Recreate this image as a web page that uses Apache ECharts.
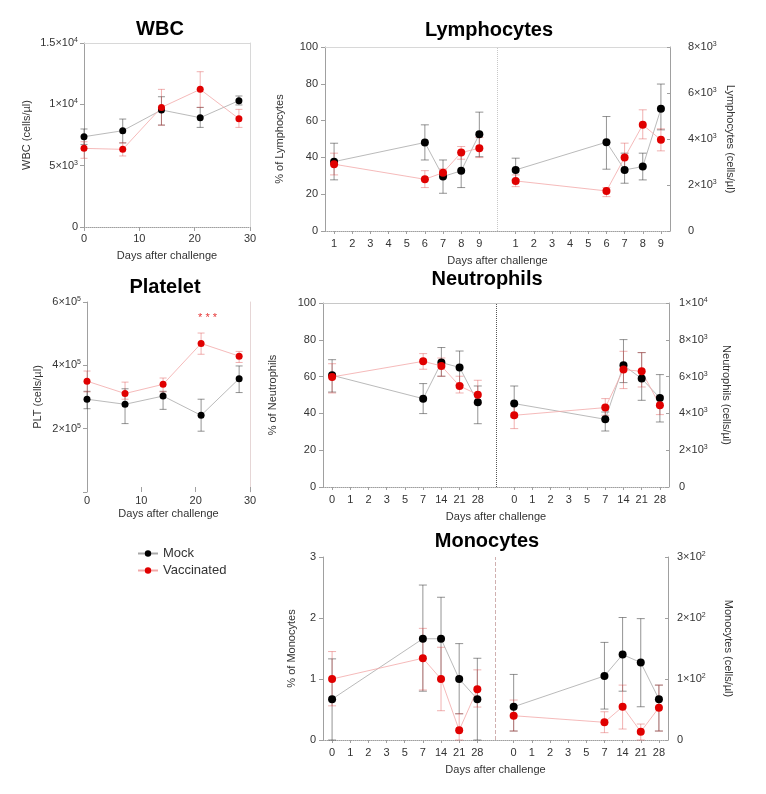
<!DOCTYPE html>
<html><head><meta charset="utf-8">
<script src="https://cdn.jsdelivr.net/npm/echarts@6/dist/echarts.min.js"></script>
<style>html,body{margin:0;padding:0;background:#fff}#c{width:766px;height:794px}</style>
</head><body><div id="c"></div>
<script>
// ---------- DATA ----------
const seriesNames = ['Mock', 'Vaccinated'];
const days = [0, 7, 14, 21, 28];

// WBC (cells/µl)
const wbcMock = [7360, 7850, 9540, 8910, 10300];
const wbcMockLo = [6730, 6850, 8310, 8120, 9950];
const wbcMockHi = [7990, 8800, 10620, 9750, 10680];
const wbcVacc = [6410, 6330, 9750, 11220, 8830];
const wbcVaccLo = [5600, 5790, 8300, 9750, 8120];
const wbcVaccHi = [6950, 6870, 11220, 12660, 9590];

// Platelet (cells/µl)
const pltMock = [293000, 277000, 303000, 242000, 358000];
const pltMockLo = [263000, 216000, 261000, 192000, 314000];
const pltMockHi = [318000, 326000, 318000, 293000, 398000];
const pltVacc = [350000, 311000, 340000, 469000, 429000];
const pltVaccLo = [316000, 293000, 316000, 435000, 409000];
const pltVaccHi = [382000, 347000, 360000, 502000, 444000];
const pltSigDay = 21;
const pltSigLevel = 549000;
const pltSigText = '* * *';

// category labels of the split panels
const lymphDayLabels = ['1','2','3','4','5','6','7','8','9'];
const lymphSampleDays = ['1','6','7','8','9'];
const otherDayLabels = ['0','1','2','3','5','7','14','21','28'];
const otherSampleDays = ['0','7','14','21','28'];

// Lymphocytes
const lymPctMock = [37.7, 48.1, 29.6, 32.7, 52.6];
const lymPctMockLo = [27.8, 38.6, 20.5, 23.6, 40.4];
const lymPctMockHi = [47.7, 57.7, 38.6, 42.6, 64.6];
const lymPctVacc = [36.3, 28.1, 31.7, 42.6, 45.0];
const lymPctVaccLo = [30.5, 23.6, 29.2, 39.0, 39.9];
const lymPctVaccHi = [42.3, 32.8, 33.7, 45.9, 50.8];
const lymAbsMock = [2656, 3863, 2656, 2800, 5313];
const lymAbsMockLo = [2221, 2687, 2077, 2221, 4398];
const lymAbsMockHi = [3166, 4977, 3384, 3384, 6389];
const lymAbsVacc = [2177, 1742, 3192, 4616, 3963];
const lymAbsVaccLo = [1929, 1494, 2656, 4006, 3484];
const lymAbsVaccHi = [2439, 1886, 3819, 5269, 4442];

// Neutrophils
const neuPctMock = [60.7, 48.0, 67.6, 65.0, 46.0];
const neuPctMockLo = [51.6, 39.9, 60.2, 55.3, 34.4];
const neuPctMockHi = [69.2, 56.2, 75.8, 73.9, 54.9];
const neuPctVacc = [59.8, 68.3, 65.8, 54.9, 50.2];
const neuPctVaccLo = [51.1, 64.0, 60.2, 51.1, 45.3];
const neuPctVaccHi = [67.0, 72.5, 70.1, 60.2, 58.0];
const neuAbsMock = [4533, 3679, 6614, 5891, 4837];
const neuAbsMockLo = [3804, 3043, 5674, 4712, 3533];
const neuAbsMockHi = [5489, 4076, 8011, 7304, 6109];
const neuAbsVacc = [3897, 4315, 6380, 6288, 4440];
const neuAbsVaccLo = [3174, 3897, 5348, 5435, 3935];
const neuAbsVaccHi = [4533, 4804, 7375, 7304, 4929];

// Monocytes
const monPctMock = [0.67, 1.66, 1.66, 1.0, 0.67];
const monPctMockLo = [0, 0.80, 0.99, 0.43, 0];
const monPctMockHi = [1.33, 2.54, 2.34, 1.58, 1.34];
const monPctVacc = [1.0, 1.34, 1.0, 0.16, 0.83];
const monPctVaccLo = [0.56, 0.82, 0.48, 0, 0.54];
const monPctVaccHi = [1.45, 1.83, 1.52, 0.43, 1.15];
const monAbsMock = [54.5, 105, 140, 127, 67];
const monAbsMockLo = [14.7, 50.7, 80, 54.5, 14.7];
const monAbsMockHi = [107.5, 160, 200.8, 199, 90];
const monAbsVacc = [39.8, 29, 54.5, 13.6, 53];
const monAbsVaccLo = [14.7, 12, 18, 0, 14.7];
const monAbsVaccHi = [65.5, 46.3, 90, 26.2, 90];

// ---------- STYLE ----------
const FONT = 'Liberation Sans, Arial, sans-serif';
const BLACK = '#000000', RED = '#e00000';
const LINE_MOCK = '#a8a8a8', LINE_VACC = '#f2a8a8';
const ERR_MOCK = 'rgba(60,60,60,0.55)', ERR_VACC = 'rgba(220,70,70,0.42)';
const AXIS_C = '#a0a0a0', LABEL_C = '#333';

const rich = {
  n: {fontSize: 11, color: LABEL_C, fontFamily: FONT, lineHeight: 13},
  s: {fontSize: 7, color: LABEL_C, fontFamily: FONT, verticalAlign: 'top', lineHeight: 8}
};
function sci(v) {
  if (v === 0) return '{n|0}';
  const e = Math.floor(Math.log10(v) + 1e-9);
  const m = +(v / Math.pow(10, e)).toFixed(2);
  return '{n|' + m + '×10}{s|' + e + '}';
}

function splitCats(labels) { return labels.concat([''], labels); }
function splitIdx(labels, sample, right) {
  return sample.map(d => labels.indexOf(d) + (right ? labels.length + 1 : 0));
}

function errSeries(xi, yi, xs, lo, hi, color, cap) {
  return {
    type: 'custom', xAxisIndex: xi, yAxisIndex: yi, silent: true, z: 2,
    data: xs.map((x, i) => [x, lo[i], hi[i]]),
    encode: {x: 0, y: [1, 2]},
    renderItem: function (params, api) {
      const x = api.value(0);
      const a = api.coord([x, api.value(1)]);
      const b = api.coord([x, api.value(2)]);
      const st = {stroke: color, lineWidth: 1};
      return {type: 'group', children: [
        {type: 'line', shape: {x1: a[0], y1: a[1], x2: b[0], y2: b[1]}, style: st},
        {type: 'line', shape: {x1: a[0] - cap, y1: a[1], x2: a[0] + cap, y2: a[1]}, style: st},
        {type: 'line', shape: {x1: b[0] - cap, y1: b[1], x2: b[0] + cap, y2: b[1]}, style: st}
      ]};
    }
  };
}
function lineSeries(name, xi, yi, xs, v, size) {
  const mock = name === 'Mock';
  return {
    type: 'line', name: name, xAxisIndex: xi, yAxisIndex: yi, z: 3,
    data: xs.map((x, i) => [x, v[i]]),
    symbol: 'circle', symbolSize: size,
    itemStyle: {color: mock ? BLACK : RED},
    lineStyle: {color: mock ? LINE_MOCK : LINE_VACC, width: 0.8},
    emphasis: {disabled: true}
  };
}
function group(xi, yi, xs, mock, mLo, mHi, vacc, vLo, vHi, size, cap) {
  return [
    errSeries(xi, yi, xs, mLo, mHi, ERR_MOCK, cap),
    errSeries(xi, yi, xs, vLo, vHi, ERR_VACC, cap),
    lineSeries('Mock', xi, yi, xs, mock, size),
    lineSeries('Vaccinated', xi, yi, xs, vacc, size)
  ];
}

// ---------- GRIDS ----------
const grids = [
  {left: 84, top: 43, width: 166, height: 184},     // 0 WBC
  {left: 325, top: 47, width: 345, height: 184},    // 1 Lymph
  {left: 87, top: 302, width: 163, height: 190},    // 2 Platelet
  {left: 323, top: 303, width: 346, height: 184},   // 3 Neutro
  {left: 323, top: 557, width: 345, height: 183}    // 4 Mono
];

const nameStyle = {fontSize: 11, color: LABEL_C, fontFamily: FONT};
const lblStyle = {fontSize: 11, color: LABEL_C, fontFamily: FONT};

function valueX(gi, extra) {
  return Object.assign({
    type: 'value', gridIndex: gi, min: 0, max: 30, interval: 10,
    name: 'Days after challenge', nameLocation: 'middle', nameGap: 23, nameTextStyle: nameStyle,
    axisLine: {show: true, lineStyle: {color: AXIS_C, type: 'dotted'}},
    axisTick: {show: true, length: 4, lineStyle: {color: AXIS_C}},
    axisLabel: Object.assign({margin: 6}, lblStyle),
    splitLine: {show: false}
  }, extra || {});
}
function catX(gi, labels) {
  return {
    type: 'category', gridIndex: gi, data: splitCats(labels), boundaryGap: true,
    name: 'Days after challenge', nameLocation: 'middle', nameGap: 24, nameTextStyle: nameStyle,
    axisLine: {show: true, lineStyle: {color: AXIS_C, type: 'dotted'}},
    axisTick: {show: true, alignWithLabel: true, length: 3, interval: function (i) { return i !== labels.length; }, lineStyle: {color: AXIS_C}},
    axisLabel: Object.assign({margin: 7, interval: 0}, lblStyle),
    splitLine: {show: false}
  };
}
function topLine(gi, type, data, color) {
  const o = {type: type, gridIndex: gi, position: 'top', show: true,
    axisLine: {show: true, onZero: false, lineStyle: {color: color}},
    axisTick: {show: false}, axisLabel: {show: false}, splitLine: {show: false}};
  if (type === 'category') o.data = data; else { o.min = 0; o.max = 30; }
  return o;
}

const xAxes = [
  valueX(0),                                                   // 0
  catX(1, lymphDayLabels),                                     // 1
  valueX(2, {axisLine: {show: false}, axisTick: {show: true, inside: true, length: 5, lineStyle: {color: AXIS_C}}, axisLabel: Object.assign({margin: 3}, lblStyle), nameGap: 16}), // 2
  catX(3, otherDayLabels),                                     // 3
  catX(4, otherDayLabels),                                     // 4
  topLine(0, 'value', null, '#d8d8d8'),                        // 5
  topLine(1, 'category', splitCats(lymphDayLabels), '#d8d8d8'),// 6
  topLine(3, 'category', splitCats(otherDayLabels), '#c8c8c8') // 7
];

function leftY(gi, min, max, interval, name, gap, fmt, extra) {
  return Object.assign({
    type: 'value', gridIndex: gi, position: 'left', min: min, max: max, interval: interval,
    name: name, nameLocation: 'middle', nameGap: gap, nameRotate: 90, nameTextStyle: nameStyle,
    axisLine: {show: true, onZero: false, lineStyle: {color: AXIS_C}},
    axisTick: {show: true, length: 4, lineStyle: {color: AXIS_C}},
    axisLabel: fmt ? {margin: 6, formatter: fmt, rich: rich} : Object.assign({margin: 7}, lblStyle),
    splitLine: {show: false}
  }, extra || {});
}
function rightY(gi, min, max, interval, name, gap, margin) {
  return {
    type: 'value', gridIndex: gi, position: 'right', min: min, max: max, interval: interval,
    name: name, nameLocation: 'middle', nameGap: gap, nameRotate: -90, nameTextStyle: nameStyle,
    axisLine: {show: true, onZero: false, lineStyle: {color: AXIS_C}},
    axisTick: {show: true, length: 3, inside: true, lineStyle: {color: AXIS_C}},
    axisLabel: {margin: margin, formatter: sci, rich: rich},
    splitLine: {show: false}
  };
}
function borderY(gi, color) {
  return {type: 'value', gridIndex: gi, position: 'right', show: true,
    axisLine: {show: true, onZero: false, lineStyle: {color: color}},
    axisTick: {show: false}, axisLabel: {show: false}, splitLine: {show: false}};
}

const yAxes = [
  leftY(0, 0, 15000, 5000, 'WBC (cells/µl)', 52, sci),                                 // 0
  borderY(0, '#d8d8d8'),                                                                 // 1
  leftY(1, 0, 100, 20, '% of Lymphocytes', 40),                                          // 2
  rightY(1, 0, 8000, 2000, 'Lymphocytes (cells/µl)', 55, 18),                            // 3
  leftY(2, 0, 600000, 200000, 'PLT (cells/µl)', 44, function (v) { return v === 0 ? '' : sci(v); }, {axisTick: {show: true, length: 4, interval: 0, lineStyle: {color: AXIS_C}}}), // 4
  borderY(2, '#e6d6d6'),                                                                 // 5
  leftY(3, 0, 100, 20, '% of Neutrophils', 45),                                          // 6
  rightY(3, 0, 10000, 2000, 'Neutrophils (cells/µl)', 52, 10),                           // 7
  leftY(4, 0, 3, 1, '% of Monocytes', 26),                                               // 8
  rightY(4, 0, 300, 100, 'Monocytes (cells/µl)', 55, 9)                                  // 9
];

// ---------- SERIES ----------
const lymL = splitIdx(lymphDayLabels, lymphSampleDays, false);
const lymR = splitIdx(lymphDayLabels, lymphSampleDays, true);
const othL = splitIdx(otherDayLabels, otherSampleDays, false);
const othR = splitIdx(otherDayLabels, otherSampleDays, true);

function divider(xi, yi, pos, color, type) {
  return {type: 'line', xAxisIndex: xi, yAxisIndex: yi, data: [], silent: true,
    markLine: {silent: true, symbol: ['none', 'none'], label: {show: false},
      lineStyle: {color: color, type: type, width: 1}, emphasis: {disabled: true},
      data: [{xAxis: pos}]}};
}

let series = [];
series = series.concat(group(0, 0, days, wbcMock, wbcMockLo, wbcMockHi, wbcVacc, wbcVaccLo, wbcVaccHi, 7, 3.5));
series = series.concat(group(2, 4, days, pltMock, pltMockLo, pltMockHi, pltVacc, pltVaccLo, pltVaccHi, 7, 3.5));
series = series.concat(group(1, 2, lymL, lymPctMock, lymPctMockLo, lymPctMockHi, lymPctVacc, lymPctVaccLo, lymPctVaccHi, 8, 4));
series = series.concat(group(1, 3, lymR, lymAbsMock, lymAbsMockLo, lymAbsMockHi, lymAbsVacc, lymAbsVaccLo, lymAbsVaccHi, 8, 4));
series = series.concat(group(3, 6, othL, neuPctMock, neuPctMockLo, neuPctMockHi, neuPctVacc, neuPctVaccLo, neuPctVaccHi, 8, 4));
series = series.concat(group(3, 7, othR, neuAbsMock, neuAbsMockLo, neuAbsMockHi, neuAbsVacc, neuAbsVaccLo, neuAbsVaccHi, 8, 4));
series = series.concat(group(4, 8, othL, monPctMock, monPctMockLo, monPctMockHi, monPctVacc, monPctVaccLo, monPctVaccHi, 8, 4));
series = series.concat(group(4, 9, othR, monAbsMock, monAbsMockLo, monAbsMockHi, monAbsVacc, monAbsVaccLo, monAbsVaccHi, 8, 4));
series.push(divider(1, 2, lymphDayLabels.length, '#c8c8c8', 'dotted'));
series.push(divider(3, 6, otherDayLabels.length, '#555555', 'dotted'));
series.push(divider(4, 8, otherDayLabels.length, '#d0b0b0', 'dashed'));
series.push({
  type: 'scatter', xAxisIndex: 2, yAxisIndex: 4, silent: true, symbolSize: 0,
  data: [[pltSigDay, pltSigLevel]],
  label: {show: true, formatter: pltSigText, position: 'inside', align: 'left', offset: [-3, 0],
    color: RED, fontSize: 11, fontFamily: FONT}
});

const titleStyle = {fontSize: 20, fontWeight: 'bold', color: '#000', fontFamily: FONT};
const titles = [
  {text: 'WBC', left: 160, top: 29},
  {text: 'Lymphocytes', left: 489, top: 30},
  {text: 'Platelet', left: 165, top: 287},
  {text: 'Neutrophils', left: 487, top: 279},
  {text: 'Monocytes', left: 487, top: 541}
];

const chart = echarts.init(document.getElementById('c'), null, {renderer: 'canvas'});
chart.setOption({
  backgroundColor: '#fff',
  animation: false,
  textStyle: {fontFamily: FONT},
  title: titles.map(t => ({text: t.text, left: t.left, top: t.top - 10, textAlign: 'center', textStyle: titleStyle, padding: 0})),
  legend: {
    data: seriesNames, orient: 'vertical', left: 132, top: 542, itemWidth: 20, itemHeight: 8, itemGap: 4,
    textStyle: {fontSize: 13, color: LABEL_C, fontFamily: FONT}, selectedMode: false
  },
  grid: grids,
  xAxis: xAxes,
  yAxis: yAxes,
  series: series
});
</script>
</body></html>
